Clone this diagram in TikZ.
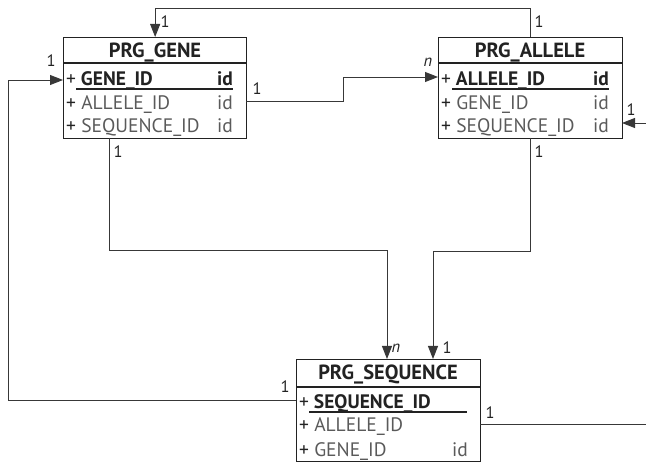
\documentclass[tikz,border=0pt]{standalone}
\usepackage{fontspec}
\setmainfont{PT Sans}
\usetikzlibrary{arrows.meta,calc}
\definecolor{fg}{HTML}{222222}
\definecolor{gr}{HTML}{5A5A5A}
\begin{document}
\begin{tikzpicture}[x=1pt,y=-1pt,
  tbl/.style={draw=fg,line width=1.3pt,rectangle,inner sep=0pt,anchor=north west,minimum width=#1,minimum height=101pt},
  ttl/.style={anchor=base,inner sep=0pt,font=\fontsize{20.5}{22}\selectfont\bfseries,text=fg},
  rowk/.style={anchor=base west,inner sep=0pt,font=\fontsize{19.5}{21}\selectfont\bfseries,text=fg},
  rowg/.style={anchor=base west,inner sep=0pt,font=\fontsize{19.5}{21}\selectfont,text=gr},
  idk/.style={anchor=base east,inner sep=0pt,font=\fontsize{19.5}{21}\selectfont\bfseries,text=fg},
  idg/.style={anchor=base east,inner sep=0pt,font=\fontsize{19.5}{21}\selectfont,text=gr},
  lbl/.style={inner sep=0pt,font=\fontsize{16.5}{18}\selectfont,text=fg},
  conn/.style={draw=fg!90,line width=0.9pt},
  arr/.style={conn,-{Triangle[length=13pt,width=10pt]}},
  sep/.style={draw=fg,line width=1.2pt}]
\useasboundingbox (0,0) rectangle (646,462);
% tables
\node[tbl=183pt] (gene) at (63,37) {};
\node[tbl=184pt] (allele) at (438,37) {};
\node[tbl=184pt,minimum height=102pt] (seq) at (296,359) {};
\draw[sep] ($(gene.north west)+(0,26)$) -- ($(gene.north east)+(0,26)$);
\draw[sep] ($(allele.north west)+(0,26)$) -- ($(allele.north east)+(0,26)$);
\draw[sep] ($(seq.north west)+(0,28)$) -- ($(seq.north east)+(0,28)$);
% gene text
\node[ttl] (gt) at (155,58) {PRG\_GENE};
\node[rowk] (g1) at (66,86) {\textmd{+} GENE\_ID};
\node[idk] (g1i) at (233,86) {id};
\draw[sep] (76,89) -- (233,89);
\node[rowg] (g2) at (66,110) {\textcolor{fg}{+} ALLELE\_ID};
\node[idg] (g2i) at (233,110) {id};
\node[rowg] (g3) at (66,133) {\textcolor{fg}{+} SEQUENCE\_ID};
\node[idg] (g3i) at (233,133) {id};
% allele text
\node[ttl] (at) at (530,58) {PRG\_ALLELE};
\node[rowk] (a1) at (441,86) {\textmd{+} ALLELE\_ID};
\node[idk] (a1i) at (609,86) {id};
\draw[sep] (452,89) -- (609,89);
\node[rowg] (a2) at (441,110) {\textcolor{fg}{+} GENE\_ID};
\node[idg] (a2i) at (609,110) {id};
\node[rowg] (a3) at (441,133) {\textcolor{fg}{+} SEQUENCE\_ID};
\node[idg] (a3i) at (609,133) {id};
% sequence text
\node[ttl] (st) at (388,380) {PRG\_SEQUENCE};
\node[rowk] (s1) at (299,409) {\textmd{+} SEQUENCE\_ID};
\draw[sep] (309,412) -- (467,412);
\node[rowg] (s2) at (299,432) {\textcolor{fg}{+} ALLELE\_ID};
\node[rowg] (s3) at (299,457) {\textcolor{fg}{+} GENE\_ID};
\node[idg] (s3i) at (468,457) {id};
% connector end points
\coordinate (gL) at (63,80);
\coordinate (gR) at (246,101);
\coordinate (gB) at (109,138);
\coordinate (aL) at (438,77);
\coordinate (aR) at (622,123);
\coordinate (aB) at (530,138);
\coordinate (sL) at (296,400);
\coordinate (sR) at (480,424);
\coordinate (sT1) at (387,359);
\coordinate (sT2) at (433,359);
\coordinate (eR1) at (646,123);
\coordinate (eR2) at (646,424);
% connectors
\draw[arr] (allele.north) -- ++(0,-29) -| (gene.north);
\draw[arr] (sL) -- (8,400) |- (gL);
\draw[arr] (gR) -- (343,101) |- (aL);
\draw[arr] (eR1) -- (aR);
\draw[arr] (gB) |- (387,250) -- (sT1);
\draw[arr] (aB) |- (433,251) -- (sT2);
\draw[conn] (sR) -- (eR2);
% labels
\node[lbl] (l1) at (165,22) {1};
\node[lbl] (l2) at (539,22) {1};
\node[lbl] (l3) at (51,61) {1};
\node[lbl] (l4) at (257,89) {1};
\node[lbl] (l5) at (428,62) {\itshape n};
\node[lbl] (l6) at (631,110) {1};
\node[lbl] (l7) at (118,152) {1};
\node[lbl] (l8) at (539,152) {1};
\node[lbl] (l9) at (396,348) {\itshape n};
\node[lbl] (l10) at (447,348) {1};
\node[lbl] (l11) at (285,387) {1};
\node[lbl] (l12) at (490,413) {1};
\end{tikzpicture}
\end{document}
